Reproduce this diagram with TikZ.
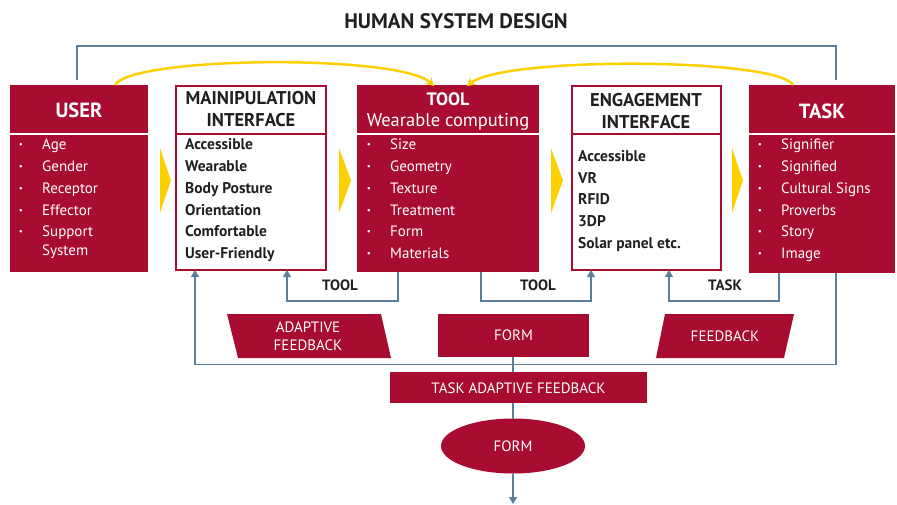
\documentclass[tikz,border=0pt]{standalone}
\usepackage{fontspec}
\setmainfont{PT Sans}
\usetikzlibrary{arrows.meta,shapes.geometric}
\definecolor{myred}{HTML}{A80C30}
\definecolor{myblue}{HTML}{5B7F99}
\definecolor{myyellow}{HTML}{FDD000}
\definecolor{mytext}{HTML}{231F20}
\begin{document}
\begin{tikzpicture}[x=1pt,y=-1pt,
  redbox/.style={fill=myred, draw=none, anchor=north west, inner sep=0pt, outer sep=0pt},
  whitebox/.style={fill=white, draw=myred, line width=2pt, anchor=north west, inner sep=0pt, outer sep=0pt},
  item/.style={anchor=west, text=white, font=\fontsize{15}{17}\selectfont, inner sep=0pt, text height=14pt, text depth=3pt},
  bitem/.style={anchor=west, text=mytext, font=\fontsize{15.5}{17}\selectfont\bfseries, inner sep=0pt, text height=14pt, text depth=3pt},
  bul/.style={anchor=center, text=white, font=\fontsize{9}{9}\selectfont, inner sep=0pt, yshift=-1.5pt},
  headw/.style={text=white, font=\fontsize{20.5}{22}\selectfont\bfseries, inner sep=0pt},
  headd/.style={text=mytext, font=\fontsize{18.5}{21}\selectfont\bfseries, align=center, inner sep=0pt},
  lbl/.style={text=mytext, font=\fontsize{15}{17}\selectfont\bfseries, inner sep=0pt},
  wlbl/.style={text=white, font=\fontsize{15}{18}\selectfont, align=center, inner sep=0pt},
  blueline/.style={draw=myblue, line width=1.3pt},
  bluearrow/.style={blueline, -{Triangle[width=8pt,length=7pt]}},
  yarrow/.style={draw=myyellow, line width=2.5pt, -{Stealth[width=9pt,length=8pt]}},
  chevron/.style={fill=myyellow}
]
\useasboundingbox (0,0) rectangle (897,504);

% title
\node[text=mytext, font=\fontsize{21}{23}\selectfont\bfseries, inner sep=0pt] (title) at (456,21) {HUMAN SYSTEM DESIGN};

% boxes
\node[redbox, minimum width=138pt, minimum height=187pt] (user) at (10,85) {};
\node[whitebox, minimum width=150pt, minimum height=184pt] (manip) at (176,86) {};
\node[redbox, minimum width=182pt, minimum height=187pt] (tool) at (357,85) {};
\node[whitebox, minimum width=149pt, minimum height=184pt] (engage) at (572,86) {};
\node[redbox, minimum width=146pt, minimum height=188pt] (task) at (749,85) {};

% dividers
\draw[white, line width=1.6pt] (user.west |- 0,134) -- (user.east |- 0,134);
\draw[white, line width=1.6pt] (tool.west |- 0,134) -- (tool.east |- 0,134);
\draw[white, line width=1.6pt] (task.west |- 0,134) -- (task.east |- 0,134);
\draw[myred, line width=2pt] (manip.west |- 0,134) -- (manip.east |- 0,134);
\draw[myred, line width=2pt] (engage.west |- 0,134) -- (engage.east |- 0,134);

% headers
\node[headw] (userh) at (79,110) {USER};
\node[headd] (maniph1) at (251,98) {MAINIPULATION};
\node[headd] (maniph2) at (251,120) {INTERFACE};
\node[text=white, font=\fontsize{18}{20}\selectfont\bfseries, inner sep=0pt] (toolh1) at (448,99) {TOOL};
\node[text=white, font=\fontsize{18.5}{20}\selectfont, inner sep=0pt] (toolh2) at (448,122) {Wearable computing};
\node[headd] (engh1) at (646,100) {ENGAGEMENT};
\node[headd] (engh2) at (646,122) {INTERFACE};
\node[headw] (taskh) at (822,111) {TASK};

% user items
\foreach \t/\y [count=\i] in {Age/144, Gender/166, Receptor/188, Effector/210, Support/231}{
  \node[bul] (ub\i) at (21,\y) {•};
  \node[item] (ui\i) at (42,\y) {\t};
}
\node[item] (ui6) at (42,250) {System};

% manipulation items
\foreach \t/\y [count=\i] in {Accessible/144, Wearable/166, Body Posture/188, Orientation/210, Comfortable/231, User-Friendly/253}{
  \node[bitem] (mi\i) at (185,\y) {\t};
}

% tool items
\foreach \t/\y [count=\i] in {Size/144, Geometry/166, Texture/188, Treatment/210, Form/231, Materials/253}{
  \node[bul] (tb\i) at (369,\y) {•};
  \node[item] (ti\i) at (390,\y) {\t};
}

% engagement items
\foreach \t/\y [count=\i] in {Accessible/156, VR/178, RFID/199, 3DP/221, Solar panel etc./243}{
  \node[bitem] (ei\i) at (578,\y) {\t};
}

% task items
\foreach \t/\y [count=\i] in {Signifier/144, Signified/166, Cultural Signs/188, Proverbs/210, Story/231, Image/253}{
  \node[bul] (kb\i) at (760,\y) {•};
  \node[item] (ki\i) at (781,\y) {\t};
}

% yellow chevrons
\fill[chevron] (160,148) -- (171,180.5) -- (160,213) -- cycle;
\fill[chevron] (339,148) -- (351,180.5) -- (339,213) -- cycle;
\fill[chevron] (551,148) -- (563,180.5) -- (551,213) -- cycle;
\fill[chevron] (732,148) -- (743,180.5) -- (732,213) -- cycle;

% yellow curved arrows
\draw[yarrow] (user.north -| 115,0) .. controls (132,56) and (400,54) .. ([yshift=-1pt]tool.north -| 434,0);
\draw[yarrow] (task.north -| 793,0) .. controls (778,58) and (505,56) .. ([yshift=-1pt]tool.north -| 467,0);

% top blue frame
\coordinate (ut) at (77,80);
\coordinate (tt) at (836,80);
\draw[blueline] (ut) -- (77,46) -- (836,46) -- (tt);

% bottom blue connectors
\draw[bluearrow] (tool.south -| 398,0) -- (398,301) -- (287,301) -- (manip.south -| 287,0);
\draw[bluearrow] (tool.south -| 481,0) -- (481,301) -- (591,301) -- (engage.south -| 591,0);
\draw[bluearrow] (task.south -| 779,0) -- (779,301) -- (669,301) -- (engage.south -| 669,0);
\draw[bluearrow] (task.south -| 836,0) -- (836,364.5) -- (195,364.5) -- (manip.south -| 195,0);

\node[lbl] (l1) at (340,285) {TOOL};
\node[lbl] (l2) at (538,285) {TOOL};
\node[lbl] (l3) at (725,285) {TASK};

% parallelograms and form box
\fill[myred] (227,314) -- (381,314) -- (391,358) -- (238,358) -- cycle;
\node[wlbl] (adapt) at (308,336) {ADAPTIVE\\FEEDBACK};
\node[redbox, minimum width=151pt, minimum height=43pt] (form1) at (438,314) {};
\node[wlbl] (form1t) at (form1.center) {FORM};
\fill[myred] (665,314) -- (794,314) -- (784,358) -- (656,358) -- cycle;
\node[wlbl] (feed) at (725,336) {FEEDBACK};

% task adaptive feedback
\node[redbox, minimum width=257pt, minimum height=31pt] (taf) at (390,372) {};
\node[wlbl] (taft) at (518.5,388) {TASK ADAPTIVE FEEDBACK};

% ellipse
\node[ellipse, fill=myred, minimum width=144pt, minimum height=55pt, inner sep=0pt, outer sep=0pt, text=white, font=\fontsize{15}{17}\selectfont] (form2) at (513,446) {FORM};

% vertical chain
\draw[blueline] (form1.south -| 513,0) -- (taf.north -| 513,0);
\draw[blueline] (taf.south -| 513,0) -- (form2.north);
\coordinate (out) at (513,504);
\draw[bluearrow] (form2.south) -- (out);
\end{tikzpicture}
\end{document}
